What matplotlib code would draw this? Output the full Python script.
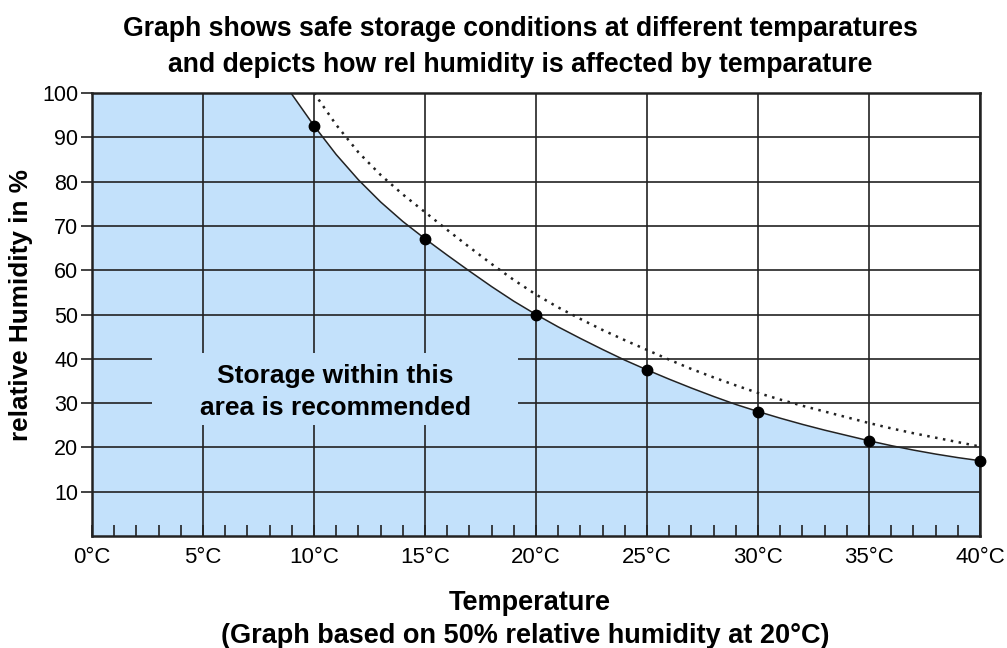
import matplotlib
matplotlib.use('Agg')
import matplotlib.pyplot as plt
from matplotlib.patches import Rectangle
from matplotlib.ticker import MultipleLocator

# measured points (temperature in degC, relative humidity in %)
point_t = [10, 15, 20, 25, 30, 35, 40]
point_rh = [92.5, 67, 50, 37.5, 28, 21.5, 17]

# solid curve
curve_t = [8.96, 10, 11, 12, 13, 14, 15, 16, 17, 18, 19, 20, 21, 22, 23, 24, 25,
           26, 27, 28, 29, 30, 31, 32, 33, 34, 35, 36, 37, 38, 39, 40]
curve_rh = [100, 92.6, 86.1, 80.4, 75.4, 71, 67.1, 63.4, 59.8, 56.3, 53, 50, 47.2, 44.6,
            42.1, 39.7, 37.5, 35.4, 33.4, 31.5, 29.7, 28.1, 26.6, 25.2, 23.9, 22.7,
            21.5, 20.4, 19.4, 18.5, 17.7, 17]

# dotted curve
dot_t = [10, 11, 12, 13, 14, 15, 16, 17, 18, 19, 20, 21, 22, 23, 24, 25,
         26, 27, 28, 29, 30, 31, 32, 33, 34, 35, 36, 37, 38, 39, 40]
dot_rh = [100, 92.8, 86.6, 81.5, 77.1, 73.1, 69.1, 65.2, 61.4, 57.8, 54.5, 51.6, 49,
          46.5, 44.2, 42, 39.8, 37.7, 35.8, 34, 32.3, 30.8, 29.4, 28.1, 26.8, 25.5,
          24.3, 23.2, 22.2, 21.2, 20.2]

x_ticks = [0, 5, 10, 15, 20, 25, 30, 35, 40]
x_labels = [str(t) + '\u00b0C' for t in x_ticks]
y_ticks = [10, 20, 30, 40, 50, 60, 70, 80, 90, 100]

blue = '#c3e1fb'
plt.rcParams['font.family'] = ['Liberation Sans', 'DejaVu Sans']

fig = plt.figure(figsize=(10.07, 6.48), dpi=100)
ax = fig.add_axes([0.0914, 0.1728, 0.8818, 0.6837])

fill_t = [0] + curve_t
fill_rh = [100] + curve_rh
ax.fill_between(fill_t, 0, fill_rh, color=blue, lw=0, zorder=1)

ax.set_axisbelow(False)
ax.grid(True, which='major', color='#222222', lw=1.2)

# label box hides the grid behind the text
ax.add_patch(Rectangle((0.0676, 0.2506), 0.4121, 0.1624, transform=ax.transAxes,
                       facecolor=blue, edgecolor='none', zorder=3))
ax.text(10.95, 32.5, 'Storage within this\narea is recommended', ha='center', va='center',
        fontsize=19, fontweight='bold', linespacing=1.4, zorder=4)

ax.plot(curve_t, curve_rh, color='#222222', lw=1.1, zorder=5)
ax.plot(dot_t, dot_rh, color='#222222', lw=1.8, ls=(0, (1, 2.2)), zorder=5)
ax.plot(point_t, point_rh, 'o', color='black', ms=7.5, zorder=6, clip_on=False)

ax.set_xlim(0, 40)
ax.set_ylim(0, 100)
ax.set_xticks(x_ticks)
ax.set_xticklabels(x_labels)
ax.set_yticks(y_ticks)
ax.xaxis.set_minor_locator(MultipleLocator(1))
ax.tick_params(axis='x', which='both', direction='in', length=8, width=1.2,
               color='#222222', labelsize=16, pad=8)
ax.tick_params(axis='y', direction='out', length=8, width=1.2, color='#222222',
               labelsize=15.5, pad=2)
for s in ax.spines.values():
    s.set_linewidth(1.8)
    s.set_color('#222222')

ax.set_ylabel('relative Humidity in %', fontsize=18.8, fontweight='bold')
ax.yaxis.set_label_coords(-0.066, 0.521)

fig.text(0.517, 0.955, 'Graph shows safe storage conditions at different temparatures',
         ha='center', va='center', fontsize=19.2, fontweight='bold')
fig.text(0.517, 0.899, 'and depicts how rel humidity is affected by temparature',
         ha='center', va='center', fontsize=19.2, fontweight='bold')
fig.text(0.526, 0.07, 'Temperature', ha='center', va='center', fontsize=19.5,
         fontweight='bold')
fig.text(0.522, 0.019, '(Graph based on 50% relative humidity at 20\u00b0C)', ha='center',
         va='center', fontsize=19.5, fontweight='bold')

fig.savefig('out.png', dpi=100)
